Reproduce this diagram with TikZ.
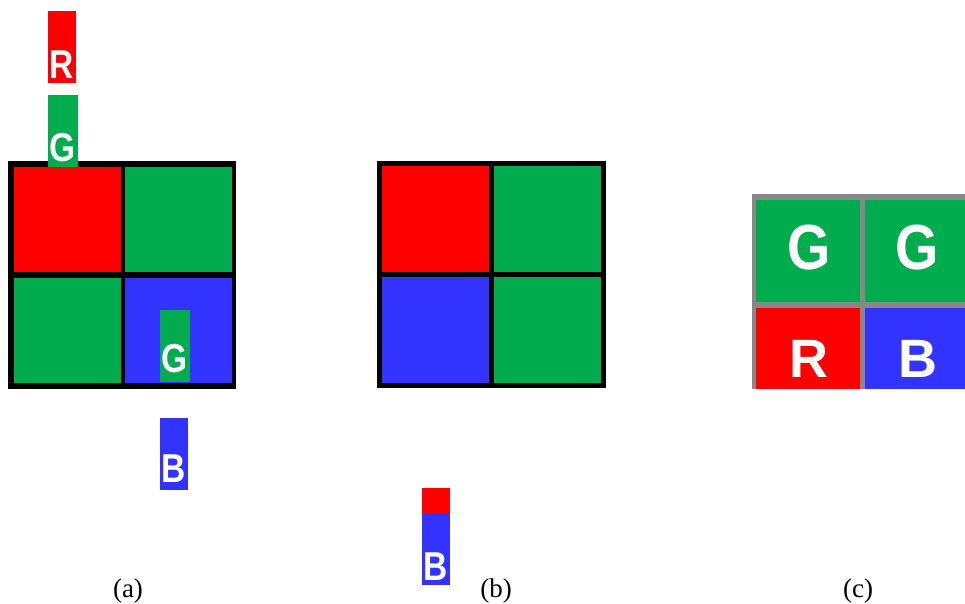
\documentclass[tikz,border=0pt]{standalone}
\usepackage{graphicx}
\usepackage{fontspec}
\setmainfont{Liberation Serif}
\newfontfamily\lsb{Liberation Sans}[BoldFont={Liberation Sans Bold}]
\definecolor{cR}{HTML}{FF0000}
\definecolor{cG}{HTML}{00AC4E}
\definecolor{cB}{HTML}{3333FF}
\definecolor{cGray}{HTML}{888888}
\newcommand{\tallstrip}[1]{\scalebox{0.93}[1.12]{#1}}
\newcommand{\tallbig}[1]{\scalebox{0.96}[1.1]{#1}}
\tikzset{
  stripletter/.style={text=white, font=\lsb\bfseries\fontsize{36}{36}\selectfont, anchor=base, inner sep=0pt},
  bigletter/.style={text=white, font=\lsb\bfseries\fontsize{54}{54}\selectfont, anchor=base, inner sep=0pt},
  biggletter/.style={text=white, font=\lsb\bfseries\fontsize{58}{58}\selectfont, anchor=base, inner sep=0pt},
  caption/.style={font=\fontsize{27}{27}\selectfont, anchor=base, inner sep=0pt},
}
\begin{document}
\begin{tikzpicture}[x=1pt,y=-1pt]
\useasboundingbox (0,0) rectangle (965,604);
% ---------- panel (a)
\fill[black] (8,161) rectangle (236,389);
\fill[cR] (14,167) rectangle (121,272);
\fill[cG] (125,167) rectangle (232,272);
\fill[cG] (14,278) rectangle (121,383);
\fill[cB] (125,278) rectangle (232,383);
% strips
\fill[cR] (48,11) rectangle (76,83);
\node[stripletter] (aR) at (62,79) {\tallstrip{R}};
\fill[cG] (48,95) rectangle (78,167);
\node[stripletter] (aG1) at (63,161) {\tallstrip{G}};
\fill[cG] (160,310) rectangle (190,382);
\node[stripletter] (aG2) at (175,372) {\tallstrip{G}};
\fill[cB] (160,418) rectangle (188,490);
\node[stripletter] (aB) at (174,482) {\tallstrip{B}};
% ---------- panel (b)
\fill[black] (377,161) rectangle (606,388);
\fill[cR] (382,166) rectangle (489,272);
\fill[cG] (494,166) rectangle (601,272);
\fill[cB] (382,277) rectangle (489,383);
\fill[cG] (494,277) rectangle (601,383);
\fill[cR] (422,488) rectangle (450,513);
\fill[cB] (422,513) rectangle (450,585);
\node[stripletter] (bB) at (436,580) {\tallstrip{B}};
% ---------- panel (c)
\fill[cGray] (752,194) rectangle (965,389);
\fill[cG] (756,200) rectangle (860,302);
\fill[cG] (865,200) rectangle (965,302);
\fill[cR] (756,308) rectangle (860,389);
\fill[cB] (865,308) rectangle (965,389);
\node[biggletter] (cG1) at (809,269) {\tallbig{G}};
\node[biggletter] (cG2) at (917,269) {\tallbig{G}};
\node[bigletter] (cR1) at (809,377) {R};
\node[bigletter] (cB1) at (918,377) {B};
% ---------- captions
\node[caption] (la) at (128,597) {(a)};
\node[caption] (lb) at (496,597) {(b)};
\node[caption] (lc) at (858,597) {(c)};
\end{tikzpicture}
\end{document}
